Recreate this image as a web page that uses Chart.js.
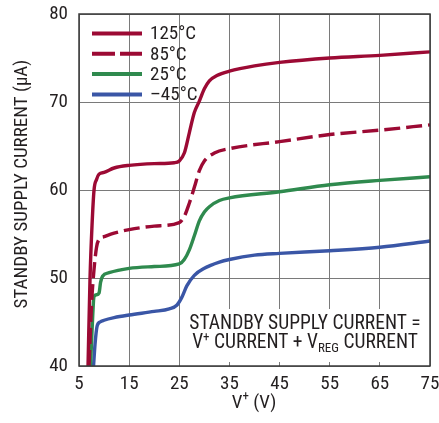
<!DOCTYPE html>
<html>
<head>
<meta charset="utf-8">
<script src="https://cdn.jsdelivr.net/npm/chart.js@4.4.1/dist/chart.umd.min.js"></script>
<style>
  html, body { margin: 0; padding: 0; background: #fff; }
  #wrap { width: 439px; height: 423px; }
</style>
</head>
<body>
<div id="wrap"><canvas id="myChart" width="439" height="423"></canvas></div>
<script>
const FONT = "'Liberation Sans Narrow', 'Roboto Condensed', 'Liberation Sans', sans-serif";
const FS = 19;

const seriesLabels = ['125°C', '85°C', '25°C', '–45°C'];
const xTicks = [5, 15, 25, 35, 45, 55, 65, 75];
const yTicks = [40, 50, 60, 70, 80];

const volts125 = [6.8, 7.2, 7.6, 8.0, 8.5, 9.0, 10, 12, 15, 20, 24, 25, 26, 27, 28, 29, 30, 31, 32.5, 35, 40, 45, 55, 65, 75];
const curr125  = [40, 50, 56, 60, 61.2, 61.8, 62.0, 62.5, 62.8, 63.0, 63.1, 63.3, 64.2, 66.5, 68.8, 70.1, 71.5, 72.4, 73.0, 73.5, 74.1, 74.5, 75.0, 75.3, 75.7];

const volts85 = [7.0, 7.5, 8.0, 8.5, 9.0, 10, 12, 15, 20, 25, 26, 27, 28, 29, 30, 32, 35, 45, 55, 65, 75];
const curr85  = [40, 47, 51, 53.5, 54.4, 54.7, 55.1, 55.5, 55.9, 56.3, 57.0, 58.5, 60.3, 62.2, 63.3, 64.2, 64.7, 65.5, 66.3, 66.8, 67.4];

const volts25 = [7.3, 7.6, 8.0, 8.5, 9.0, 9.3, 9.7, 11, 15, 20, 25, 26, 27, 28, 29, 30, 31, 33, 35, 45, 55, 65, 75];
const curr25  = [40, 44, 47.9, 48.1, 48.3, 49.5, 50.2, 50.6, 51.1, 51.3, 51.6, 52.1, 53.2, 54.8, 56.5, 57.5, 58.1, 58.8, 59.1, 59.8, 60.6, 61.1, 61.5];

const voltsM45 = [7.9, 8.2, 8.6, 9.2, 10, 12, 15, 20, 23, 24.5, 25.5, 26.5, 28, 30, 33, 35, 40, 45, 55, 65, 75];
const currM45  = [40, 42.5, 44.5, 45.0, 45.2, 45.5, 45.8, 46.2, 46.5, 46.9, 47.8, 49.1, 50.3, 51.1, 51.8, 52.1, 52.6, 52.8, 53.1, 53.5, 54.2];

const RED = '#9c0a34', GREEN = '#2f8a4e', BLUE = '#3a56a6';

function pts(xs, ys) {
  return xs.map((x, i) => ({ x: x, y: ys[i] }));
}

const styles = [
  { color: RED, dash: [], legendDash: [] },
  { color: RED, dash: [16, 6], legendDash: [23, 5] },
  { color: GREEN, dash: [], legendDash: [] },
  { color: BLUE, dash: [], legendDash: [] }
];
const allData = [pts(volts125, curr125), pts(volts85, curr85), pts(volts25, curr25), pts(voltsM45, currM45)];

// draws text pieces [text, size, yshift] centred on cx
function drawRich(c, parts, cx, y) {
  let tw = 0;
  parts.forEach(p => { c.font = p[1] + 'px ' + FONT; tw += c.measureText(p[0]).width; });
  let x = cx - tw / 2;
  parts.forEach(p => {
    c.font = p[1] + 'px ' + FONT;
    c.fillText(p[0], x, y + p[2]);
    x += c.measureText(p[0]).width;
  });
}

// white box, frame, legend, titles and note
const extras = {
  id: 'extras',
  beforeDatasetsDraw(chart) {
    const c = chart.ctx;
    c.save();
    c.fillStyle = '#fff';
    c.fillRect(181, 309, 248, 53);
    c.restore();
  },
  afterDraw(chart) {
    const c = chart.ctx;
    const a = chart.chartArea;
    c.save();
    c.strokeStyle = '#3a3a3a';
    c.lineWidth = 1.5;
    c.strokeRect(a.left, a.top, a.right - a.left, a.bottom - a.top);

    // legend
    c.font = FS + 'px ' + FONT;
    c.textBaseline = 'middle';
    c.textAlign = 'left';
    seriesLabels.forEach((lab, i) => {
      const y = 33.5 + i * 20.3;
      c.strokeStyle = styles[i].color;
      c.lineWidth = 4;
      c.setLineDash(styles[i].legendDash);
      c.beginPath();
      c.moveTo(92, y);
      c.lineTo(142, y);
      c.stroke();
      c.setLineDash([]);
      c.fillStyle = '#231f20';
      c.fillText(lab, 150, y + 1);
    });

    // note
    c.fillStyle = '#231f20';
    drawRich(c, [['STANDBY SUPPLY CURRENT =', 19.5, 0]], 305, 324);
    drawRich(c, [['V', 19.5, 0], ['+', 13, -6], [' CURRENT + V', 19.5, 0], ['REG', 13, 5], [' CURRENT', 19.5, 0]], 305, 343.5);

    // x title
    drawRich(c, [['V', FS, 0], ['+', 13, -6], [' (V)', FS, 0]], 254, 403);

    // y title
    c.translate(22, 184);
    c.rotate(-Math.PI / 2);
    c.textAlign = 'center';
    c.font = FS + 'px ' + FONT;
    c.fillText('STANDBY SUPPLY CURRENT (µA)', 0, 0);
    c.restore();
  }
};

function noPad(s) {
  s.paddingTop = 0;
  s.paddingBottom = 0;
  s.paddingLeft = 0;
  s.paddingRight = 0;
}

const ctx = document.getElementById('myChart');

new Chart(ctx, {
  type: 'line',
  data: {
    datasets: allData.map((d, i) => ({
      label: seriesLabels[i],
      data: d,
      borderColor: styles[i].color,
      borderDash: styles[i].dash,
      borderWidth: 3.4,
      pointRadius: 0,
      cubicInterpolationMode: 'monotone',
      fill: false
    }))
  },
  options: {
    responsive: false,
    animation: false,
    layout: { padding: { top: 14, right: 9, left: 0, bottom: 0 } },
    plugins: { legend: { display: false }, tooltip: { enabled: false } },
    scales: {
      x: {
        type: 'linear',
        min: 5,
        max: 75,
        afterBuildTicks: s => { s.ticks = xTicks.map(v => ({ value: v })); },
        afterFit: s => { s.height = 57; noPad(s); },
        grid: { color: '#7a7a7a', lineWidth: 1, drawTicks: false },
        border: { display: false },
        ticks: { padding: 7, color: '#231f20', font: { family: FONT, size: FS }, maxRotation: 0 }
      },
      y: {
        min: 40,
        max: 80,
        afterBuildTicks: s => { s.ticks = yTicks.map(v => ({ value: v })); },
        afterFit: s => { s.width = 79; noPad(s); },
        grid: { color: '#7a7a7a', lineWidth: 1, drawTicks: false },
        border: { display: false },
        ticks: { padding: 11, color: '#231f20', font: { family: FONT, size: FS } }
      }
    }
  },
  plugins: [extras]
});
</script>
</body>
</html>
